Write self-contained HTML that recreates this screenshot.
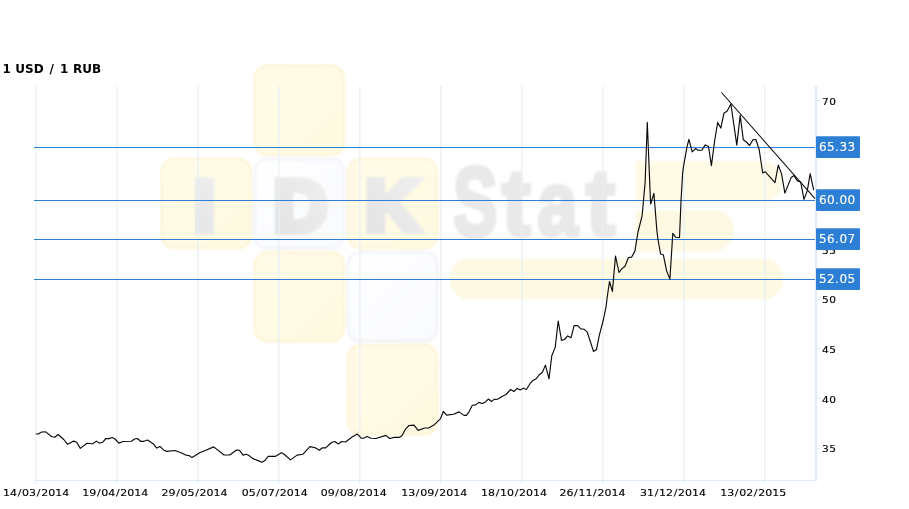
<!DOCTYPE html>
<html lang="en"><head><meta charset="utf-8"><title>1 USD / 1 RUB</title>
<style>html,body{margin:0;padding:0;background:#fff;}body{width:909px;height:509px;overflow:hidden;}svg{display:block;}</style></head><body>
<svg width="909" height="509" viewBox="0 0 909 509" font-family="'DejaVu Sans','Liberation Sans',Verdana,sans-serif">
<defs><linearGradient id="gy" x1="0" y1="0" x2="1" y2="1"><stop offset="0" stop-color="#fffce8"/><stop offset="1" stop-color="#fef9e0"/></linearGradient><linearGradient id="gw" x1="0" y1="0" x2="1" y2="1"><stop offset="0" stop-color="#ffffff"/><stop offset="1" stop-color="#f8fafd"/></linearGradient><linearGradient id="gl" x1="0" y1="1" x2="1" y2="0"><stop offset="0" stop-color="#e2e2e2"/><stop offset="1" stop-color="#f0f0f0"/></linearGradient><filter id="soft" x="-5%" y="-5%" width="110%" height="110%"><feGaussianBlur stdDeviation="0.9"/></filter></defs>
<rect width="909" height="509" fill="#ffffff"/>
<g id="watermark" filter="url(#soft)">
<rect x="254.8" y="65.7" width="89.2" height="89.2" rx="12.5" ry="12.5" fill="url(#gy)" stroke="#fdf4d5" stroke-width="2.2"/>
<rect x="161.8" y="159.0" width="89.2" height="89.2" rx="12.5" ry="12.5" fill="url(#gy)" stroke="#fdf4d5" stroke-width="2.2"/>
<rect x="254.8" y="159.0" width="89.2" height="89.2" rx="12.5" ry="12.5" fill="url(#gw)" stroke="#f1f3f7" stroke-width="2.4"/>
<rect x="348.0" y="159.0" width="89.2" height="89.2" rx="12.5" ry="12.5" fill="url(#gy)" stroke="#fdf4d5" stroke-width="2.2"/>
<rect x="254.8" y="252.1" width="89.2" height="89.2" rx="12.5" ry="12.5" fill="url(#gy)" stroke="#fdf4d5" stroke-width="2.2"/>
<rect x="348.0" y="252.1" width="89.2" height="89.2" rx="12.5" ry="12.5" fill="url(#gw)" stroke="#f1f3f7" stroke-width="2.4"/>
<rect x="348.0" y="345.1" width="89.2" height="89.2" rx="12.5" ry="12.5" fill="url(#gy)" stroke="#fdf4d5" stroke-width="2.2"/>
<path d="M635.5,161 H762.5 a20.5,20.5 0 0 1 0,41 H635.5 Z" fill="#fefae6"/>
<path d="M635.5,210.2 H713.4 a20.6,20.6 0 0 1 0,41.2 H635.5 Z" fill="#fdf9e3"/>
<rect x="449.5" y="258.4" width="334" height="40.8" rx="20" fill="#fdf9e3"/>
<text transform="translate(190.43,232.93) scale(1.2681,0.9754)" font-family="'Liberation Sans',Arial,sans-serif" font-weight="bold" font-size="80" fill="url(#gl)" stroke="url(#gl)" stroke-width="4" stroke-linejoin="miter" vector-effect="non-scaling-stroke">I</text>
<text transform="translate(273.99,230.71) scale(0.9212,0.9061)" font-family="'Liberation Sans',Arial,sans-serif" font-weight="bold" font-size="80" fill="url(#gl)" stroke="url(#gl)" stroke-width="8" stroke-linejoin="miter" vector-effect="non-scaling-stroke">D</text>
<text transform="translate(365.64,230.40) scale(0.9193,0.8912)" font-family="'Liberation Sans',Arial,sans-serif" font-weight="bold" font-size="80" fill="url(#gl)" stroke="url(#gl)" stroke-width="8" stroke-linejoin="miter" vector-effect="non-scaling-stroke">K</text>
<text transform="translate(453.01,236.29) scale(0.8319,1.2230)" font-family="'Liberation Sans',Arial,sans-serif" font-weight="bold" font-size="80" fill="#e9e9e9" stroke="#e9e9e9" stroke-width="4" stroke-linejoin="miter" vector-effect="non-scaling-stroke">S</text>
<text transform="translate(501.89,235.45) scale(1.0700,1.1847)" font-family="'Liberation Sans',Arial,sans-serif" font-weight="bold" font-size="80" fill="#e9e9e9" stroke="#e9e9e9" stroke-width="4" stroke-linejoin="miter" vector-effect="non-scaling-stroke">t</text>
<text transform="translate(537.55,235.01) scale(0.8992,1.1434)" font-family="'Liberation Sans',Arial,sans-serif" font-weight="bold" font-size="80" fill="#e9e9e9" stroke="#e9e9e9" stroke-width="4" stroke-linejoin="miter" vector-effect="non-scaling-stroke">a</text>
<text transform="translate(585.82,235.48) scale(1.1088,1.1858)" font-family="'Liberation Sans',Arial,sans-serif" font-weight="bold" font-size="80" fill="#e9e9e9" stroke="#e9e9e9" stroke-width="4" stroke-linejoin="miter" vector-effect="non-scaling-stroke">t</text>
</g>
<g id="grid">
<rect x="35.35" y="86" width="1.3" height="394" fill="#e8f0f6"/>
<rect x="35.30" y="481" width="1" height="3" fill="#deeaf5"/>
<rect x="116.32" y="86" width="1.3" height="394" fill="#e8f0f6"/>
<rect x="116.27" y="481" width="1" height="3" fill="#deeaf5"/>
<rect x="197.29" y="86" width="1.3" height="394" fill="#e8f0f6"/>
<rect x="197.24" y="481" width="1" height="3" fill="#deeaf5"/>
<rect x="278.26" y="86" width="1.3" height="394" fill="#e8f0f6"/>
<rect x="278.21" y="481" width="1" height="3" fill="#deeaf5"/>
<rect x="359.23" y="86" width="1.3" height="394" fill="#e8f0f6"/>
<rect x="359.18" y="481" width="1" height="3" fill="#deeaf5"/>
<rect x="440.20" y="86" width="1.3" height="394" fill="#e8f0f6"/>
<rect x="440.15" y="481" width="1" height="3" fill="#deeaf5"/>
<rect x="521.17" y="86" width="1.3" height="394" fill="#e8f0f6"/>
<rect x="521.12" y="481" width="1" height="3" fill="#deeaf5"/>
<rect x="602.14" y="86" width="1.3" height="394" fill="#e8f0f6"/>
<rect x="602.09" y="481" width="1" height="3" fill="#deeaf5"/>
<rect x="683.11" y="86" width="1.3" height="394" fill="#e8f0f6"/>
<rect x="683.06" y="481" width="1" height="3" fill="#deeaf5"/>
<rect x="764.08" y="86" width="1.3" height="394" fill="#e8f0f6"/>
<rect x="764.03" y="481" width="1" height="3" fill="#deeaf5"/>
<rect x="34" y="480" width="782" height="1" fill="#deeaf5"/>
<rect x="815" y="86" width="2" height="395" fill="#deeaf5"/>
<rect x="817" y="100" width="3" height="1" fill="#deeaf5"/>
<rect x="817" y="150" width="3" height="1" fill="#deeaf5"/>
<rect x="817" y="199" width="3" height="1" fill="#deeaf5"/>
<rect x="817" y="249" width="3" height="1" fill="#deeaf5"/>
<rect x="817" y="299" width="3" height="1" fill="#deeaf5"/>
<rect x="817" y="348" width="3" height="1" fill="#deeaf5"/>
<rect x="817" y="398" width="3" height="1" fill="#deeaf5"/>
<rect x="817" y="448" width="3" height="1" fill="#deeaf5"/>
</g>
<g id="levels">
<line x1="34" y1="147.5" x2="815" y2="147.5" stroke="#2c7fd5" stroke-width="1.2"/>
<line x1="34" y1="200.5" x2="815" y2="200.5" stroke="#2c7fd5" stroke-width="1.2"/>
<line x1="34" y1="239.5" x2="815" y2="239.5" stroke="#2c7fd5" stroke-width="1.2"/>
<line x1="34" y1="279.5" x2="815" y2="279.5" stroke="#2c7fd5" stroke-width="1.2"/>
</g>
<polyline fill="none" stroke="#0a0a0a" stroke-width="1.15" stroke-linejoin="round" points="35.8,434.0 38.3,434.0 41.6,432.0 45.7,431.9 51.5,436.5 54.8,437.3 58.1,434.5 63.8,439.5 67.6,444.3 73.7,441.1 76.7,442.3 80.3,448.4 86.9,443.3 92.7,443.8 96.5,441.1 99.3,443.1 102.6,442.3 105.9,438.5 108.9,438.6 112.2,437.5 115,439 118.8,443.1 123.2,441.5 131.5,441.3 134.5,439 137.3,438.5 140.6,441.3 143.9,441.3 147.5,440 153.4,443.9 156.7,448.1 160,446.4 163.7,450.2 167,451.4 175,450.5 181.6,453 185.7,455.1 189,455.5 192,457.6 199.7,452.7 204.7,450.7 213.7,446.9 224.1,455 229.7,455 236.5,450 239.3,450.2 243.1,455.1 246.2,454.3 248.9,455.5 252.5,458.4 257.5,460.4 262.1,462.2 264.6,460.8 268.2,456.3 275.6,456.3 281.4,452.7 283.5,453.8 290.5,459.9 297.1,455.1 302.8,454.3 309.9,446.6 315.2,447.7 319.4,450.2 322.4,447.8 325.7,447.8 331.5,442.5 334.8,441.5 338.4,444 341.4,441.5 345.5,442 352.1,437 357.4,434.1 361.2,438.2 363.6,438.2 366.9,436.5 371.1,438.3 376,438.5 385.9,435.4 389.7,438.5 394.2,437.4 399.1,437.4 401.9,435.7 405.7,428.8 409,425.5 414,425.1 418.1,430.4 424.7,428 428.8,428 433.8,425.1 440.4,418.9 443.3,411.5 446.6,415.1 453.6,414.3 459.1,411.9 464,415.4 466.5,415.4 469,411.8 472.3,405.2 475.6,404.9 478.9,402.4 482.2,403.5 485.5,401.9 488.3,399.1 491.7,401.4 494.2,399.4 497.9,399.1 502,396.6 506.1,394.5 510.6,389.5 513.9,391.5 517.2,388.3 520.1,390 523.4,388.3 526.4,389.5 530,383.7 532.5,380.8 535.8,379.1 539.1,375 542.4,372.2 545.4,365.1 549,378.8 551.8,355.7 555.2,347.4 558.2,321 561.5,340.4 564.4,339.5 567.7,335.9 571,337.8 574.1,325.6 577.6,325.6 580.9,328.9 584.2,329.3 587.3,332.2 593.5,351.4 596.5,349.4 599.4,334.9 603.1,321 606,307.2 607.2,297.1 609.5,281.5 612.4,291.4 615.5,256.1 619,272.5 621.7,268.9 625,266.3 628.5,257.5 631.6,257.1 634.9,251.1 636.2,243.2 638,232 642.1,215.8 645.1,182.8 647.3,122.4 650.6,204 653.9,193.4 657,232 658,239.5 660.6,254 663.3,254.7 666.6,270.9 669.9,279.1 672.8,233.3 675.8,237.3 679.5,237.5 681,201.3 682.6,173.6 683.4,167 686.9,147.3 688.9,139.3 692.2,151.9 695.5,148.6 698.2,150.2 701.9,150.2 705.2,144.9 708.5,146.5 711.4,165.6 714.6,141 717.7,122.4 720.8,128.1 723.9,113.3 727.2,111 730.9,104 736.8,145.1 740.2,115.4 743.3,139.8 746.3,142 749.6,145.5 752.9,139.7 755.9,139.5 759.1,149.2 762.7,173 765.1,171.7 775,182.6 778.3,165.1 781.6,174.1 784.9,193.1 791.2,177.4 794.1,175.6 797.4,180.9 800.7,182 804,199.4 807.3,190.6 810.2,173.7 813.7,190.2"/>
<line x1="721.5" y1="92.5" x2="815" y2="198.7" stroke="#0a0a0a" stroke-width="1.08"/>
<g id="ylabels" font-size="10.6" letter-spacing="0.45" fill="#000" stroke="#000" stroke-width="0.15">
<text transform="translate(822,104.6) scale(1,0.9)">70</text>
<text transform="translate(822,154.3) scale(1,0.9)">65</text>
<text transform="translate(822,203.9) scale(1,0.9)">60</text>
<text transform="translate(822,253.6) scale(1,0.9)">55</text>
<text transform="translate(822,303.3) scale(1,0.9)">50</text>
<text transform="translate(822,353.0) scale(1,0.9)">45</text>
<text transform="translate(822,402.6) scale(1,0.9)">40</text>
<text transform="translate(822,452.3) scale(1,0.9)">35</text>
</g>
<g id="badges">
<rect x="816" y="136.3" width="44" height="21.6" rx="1" fill="#2c7fd5"/>
<text x="818.9" y="150.8" font-size="12" fill="#ffffff" stroke="#ffffff" stroke-width="0.12" letter-spacing="0.48">65.33</text>
<rect x="816" y="189.3" width="44" height="21.6" rx="1" fill="#2c7fd5"/>
<text x="818.9" y="203.8" font-size="12" fill="#ffffff" stroke="#ffffff" stroke-width="0.12" letter-spacing="0.48">60.00</text>
<rect x="816" y="228.3" width="44" height="21.6" rx="1" fill="#2c7fd5"/>
<text x="818.9" y="242.8" font-size="12" fill="#ffffff" stroke="#ffffff" stroke-width="0.12" letter-spacing="0.48">56.07</text>
<rect x="816" y="268.3" width="44" height="21.6" rx="1" fill="#2c7fd5"/>
<text x="818.9" y="282.8" font-size="12" fill="#ffffff" stroke="#ffffff" stroke-width="0.12" letter-spacing="0.48">52.05</text>
</g>
<g id="xlabels" font-size="11" fill="#000" stroke="#000" stroke-width="0.15">
<text transform="translate(3.1,496.2) scale(1,0.87)" dx="0 0 0.65 0.65 0 0.65 0.65 0 0 0">14/03/2014</text>
<text transform="translate(82.3,496.2) scale(1,0.87)" dx="0 0 0.65 0.65 0 0.65 0.65 0 0 0">19/04/2014</text>
<text transform="translate(161.5,496.2) scale(1,0.87)" dx="0 0 0.65 0.65 0 0.65 0.65 0 0 0">29/05/2014</text>
<text transform="translate(241.8,496.2) scale(1,0.87)" dx="0 0 0.65 0.65 0 0.65 0.65 0 0 0">05/07/2014</text>
<text transform="translate(320.7,496.2) scale(1,0.87)" dx="0 0 0.65 0.65 0 0.65 0.65 0 0 0">09/08/2014</text>
<text transform="translate(401.2,496.2) scale(1,0.87)" dx="0 0 0.65 0.65 0 0.65 0.65 0 0 0">13/09/2014</text>
<text transform="translate(481.0,496.2) scale(1,0.87)" dx="0 0 0.65 0.65 0 0.65 0.65 0 0 0">18/10/2014</text>
<text transform="translate(559.4,496.2) scale(1,0.87)" dx="0 0 0.65 0.65 0 0.65 0.65 0 0 0">26/11/2014</text>
<text transform="translate(640.0,496.2) scale(1,0.87)" dx="0 0 0.65 0.65 0 0.65 0.65 0 0 0">31/12/2014</text>
<text transform="translate(720.2,496.2) scale(1,0.87)" dx="0 0 0.65 0.65 0 0.65 0.65 0 0 0">13/02/2015</text>
</g>
<text x="2.5" y="73.4" font-size="12" font-weight="bold" fill="#000" dx="0 0.2 0 0 0 0.2 1.6 1.6 0.2 0.2 0.2 0 0">1 USD / 1 RUB</text>
</svg></body></html>
